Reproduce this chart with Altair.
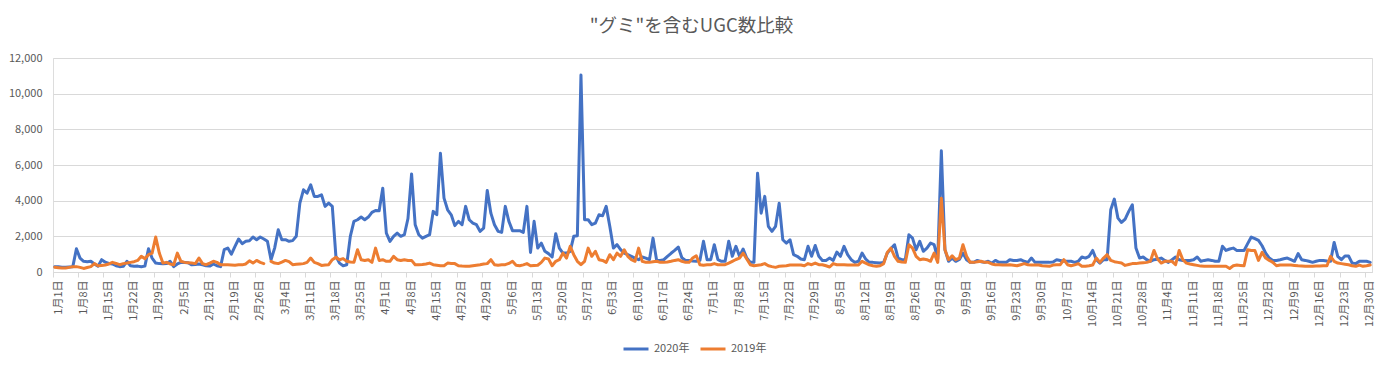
import json
import altair as alt
import pandas as pd

# ---- data ----
title_text = '"グミ"を含むUGC数比較'
series_names = ["2020年", "2019年"]
series_colors = ["#4472C4", "#ED7D31"]

x_labels = ["1月1日", "1月8日", "1月15日", "1月22日", "1月29日", "2月5日", "2月12日", "2月19日",
            "2月26日", "3月4日", "3月11日", "3月18日", "3月25日", "4月1日", "4月8日", "4月15日",
            "4月22日", "4月29日", "5月6日", "5月13日", "5月20日", "5月27日", "6月3日", "6月10日",
            "6月17日", "6月24日", "7月1日", "7月8日", "7月15日", "7月22日", "7月29日", "8月5日",
            "8月12日", "8月19日", "8月26日", "9月2日", "9月9日", "9月16日", "9月23日", "9月30日",
            "10月7日", "10月14日", "10月21日", "10月28日", "11月4日", "11月11日", "11月18日",
            "11月25日", "12月2日", "12月9日", "12月16日", "12月23日", "12月30日"]

y_ticks = [0, 2000, 4000, 6000, 8000, 10000, 12000]

ugc_2020 = [
    300, 290, 270, 260, 280, 300, 1300, 780, 600, 580, 600, 450, 320, 690, 550, 480, 450, 350, 300, 320,
    600, 350, 320, 330, 300, 330, 1300, 780, 500, 470, 460, 470, 600, 300, 450, 540, 530, 520, 400, 420,
    450, 400, 350, 330, 450, 350, 300,
    1250, 1340, 1000, 1440, 1850, 1590, 1720, 1750, 1960, 1810, 1960, 1850, 1720, 690, 1340, 2370, 1810,
    1810, 1720, 1760, 2000, 3860, 4610, 4420, 4890, 4240, 4240, 4330, 3680, 3860, 3680, 880, 500, 350,
    400, 2000, 2840, 2930,
    3080, 2930, 3080, 3340, 3450, 3430, 4700, 2180, 1720, 2000, 2180, 2000, 2090, 3000, 5500, 2650, 2090,
    1900, 2000, 2090, 3400, 3210, 6660, 4140, 3490, 3210, 2600, 2840, 2650, 3680, 2930, 2740, 2650, 2280,
    2460, 4570, 3300, 2650, 2280, 2220, 3680, 2840, 2320, 2320, 2320, 2220, 3680, 1100, 2840, 1340, 1620,
    1160, 1030, 840, 2150, 1340, 1060, 1060, 1160, 2000, 2030, 11050, 2930, 2930, 2650, 2740, 3210, 3150,
    3680, 2560, 1340, 1530, 1250, 1060, 970, 880, 780, 690, 840, 780, 690, 1900, 650, 650, 690, 880, 1050,
    1210, 1400, 800, 650, 650, 620,
    600, 650, 1720, 690, 690, 1530, 690, 600, 600, 1720, 880, 1440, 880, 1290, 780, 540, 540, 5540, 3300,
    4240, 2560, 2280, 2560, 3860, 1810, 1620, 1810, 970, 880, 730, 690, 1440, 880, 1490, 880, 650, 650,
    780, 650, 1120, 880, 1440, 970, 690, 540, 600, 1060, 730, 540, 540, 520, 500, 540, 1060, 1300, 1530,
    780, 690, 690, 2090, 1900, 1250, 1720, 1160, 1340, 1620, 1530, 730, 6800, 1250, 600, 780, 600, 700,
    1060, 690, 540, 540, 650, 580, 540, 600, 500, 650, 540, 540, 540, 690, 650, 650, 690, 600, 540, 780,
    540,
    540, 540, 540, 540, 560, 690, 650, 600, 600, 600, 540, 600, 840, 780, 880, 1210, 690, 500, 690, 690,
    3490, 4090, 3020, 2780, 2970, 3400, 3770, 1340, 780, 840, 690, 600, 690, 720, 780, 650, 540, 690, 840,
    690, 650, 650, 650, 690, 840, 600, 650, 690, 650, 600, 600, 1440, 1210, 1290, 1340, 1210, 1210, 1210,
    1590, 1960, 1870, 1770, 1470, 1060, 780, 650, 650, 690, 740, 780, 690, 600, 1030, 690, 650, 600, 540,
    600, 650, 650, 620, 600, 1660, 880, 690, 900, 900, 500, 470, 600, 600, 600, 540,
]

# 2019 values placed on the same calendar; no 2月29日 in 2019 (None)
ugc_2019 = [
    260, 240, 220, 220, 260, 300, 300, 260, 200, 250, 300, 470, 350, 370, 390, 450, 540, 480, 410, 470,
    500, 540, 580, 650, 880, 750, 970, 1060, 1960, 1060, 500, 540, 450, 410, 1060, 600, 540, 520, 500, 470,
    780, 470, 410, 500, 600, 540, 410, 400, 400, 390, 380, 400, 400, 450, 630, 500, 650, 540, 470,
    None,
    600, 500, 470, 550, 650, 580, 410, 430, 450, 470, 540, 780, 540, 470, 370, 390, 410, 690, 820, 690,
    750, 600, 560, 540, 1250,
    690, 650, 690, 540, 1340, 650, 690, 600, 600, 880, 690, 650, 690, 650, 650, 410, 410, 420, 450, 500,
    410, 380, 350, 350, 500, 480, 470, 350, 330, 320, 320, 350, 380, 410, 450, 470, 690, 410, 380, 400,
    410, 480, 600, 380, 350, 400, 470, 350, 370, 380, 540, 780, 730, 350, 600, 690, 1060, 780, 1440, 970,
    600, 410, 600, 1340, 880, 1160, 690, 650, 540, 970, 690, 1060, 880, 1250, 880, 690, 600, 1340, 600,
    540, 540, 570, 600, 540, 540, 560, 600, 650,
    690, 600, 540, 540, 780, 910, 410, 380, 400, 410, 470, 410, 410, 410, 500, 600, 700, 780, 1060, 730,
    410, 350, 380, 410, 470, 350, 300, 260, 320, 340, 350, 390, 390, 390, 390, 350, 470, 410, 500, 410,
    410, 350, 280, 470, 410, 410, 410, 390, 390, 390, 390, 600, 500, 400, 350, 320, 350, 470, 1100, 1340,
    880, 600, 560, 540, 1530, 1340, 880, 690, 730, 690, 600, 1060, 540, 4140, 1250, 690, 910, 690, 780,
    1530, 880, 540, 540, 570, 600, 540, 540, 450, 410, 410, 390, 390, 410, 380, 350, 410, 470, 410, 390,
    390,
    390, 350, 340, 320, 390, 400, 410, 690, 410, 350, 400, 470, 320, 320, 350, 390, 780, 540, 780, 970,
    650, 580, 540, 500, 370, 420, 470, 470, 500, 520, 540, 600, 1210, 730, 500, 600, 600, 600, 410, 1210,
    690, 500, 450, 410, 370, 330, 320, 320, 320, 320, 320, 320, 320, 200, 350, 390, 370, 350, 1250, 1210,
    1210, 650, 1100, 780, 650, 540, 350, 390, 390, 390, 390, 370, 350, 340, 320, 320, 320, 330, 340, 350,
    350, 880, 600, 500, 470, 440, 410, 350, 320, 390, 320, 350, 390,
]

# ---- table ----
rows = []
for name, vals in zip(series_names, [ugc_2020, ugc_2019]):
    for i, v in enumerate(vals):
        rows.append({"day": i, "value": v, "series": name})
df = pd.DataFrame(rows)

n_days = len(ugc_2020)
tick_vals = [7 * i - 0.5 for i in range(len(x_labels))]
label_expr = json.dumps(x_labels, ensure_ascii=False) + "[round((datum.value + 0.5) / 7)]"

FONT = "Noto Sans CJK JP"
GREY = "#595959"

color = alt.Color(
    "series:N",
    scale=alt.Scale(domain=series_names, range=series_colors),
    legend=alt.Legend(
        title=None,
        orient="none",
        direction="horizontal",
        legendX=569,
        legendY=277,
        symbolType="stroke",
        symbolSize=625,
        symbolStrokeWidth=3,
        labelFont=FONT,
        labelFontSize=11,
        labelColor=GREY,
        labelOffset=4,
        columnPadding=4,
    ),
)

x_enc = alt.X(
    "day:Q",
    scale=alt.Scale(domain=[-0.5, n_days - 0.5], nice=False, zero=False),
    axis=alt.Axis(
        title=None,
        values=tick_vals,
        labelExpr=label_expr,
        labelAngle=-90,
        labelAlign="right",
        labelBaseline="middle",
        labelOffset=5,
        labelPadding=3,
        labelFont=FONT,
        labelFontSize=11,
        labelColor=GREY,
        tickSize=5,
        tickColor="#d9d9d9",
        domainColor="#d9d9d9",
        grid=False,
        labelOverlap=False,
    ),
)

y_enc = alt.Y(
    "value:Q",
    scale=alt.Scale(domain=[0, 12000], nice=False),
    axis=alt.Axis(
        title=None,
        values=y_ticks,
        format=",.0f",
        labelFont=FONT,
        labelFontSize=11,
        labelColor=GREY,
        labelPadding=11,
        ticks=False,
        domain=False,
        gridColor="#d9d9d9",
        gridWidth=1,
    ),
)

base = alt.Chart(df)

line2020 = base.transform_filter(alt.datum.series == series_names[0]).mark_line(
    strokeWidth=3, strokeJoin="round", strokeCap="round", invalid="break-paths-show-domains"
).encode(x=x_enc, y=y_enc, color=color)

line2019 = base.transform_filter(alt.datum.series == series_names[1]).mark_line(
    strokeWidth=3, strokeJoin="round", strokeCap="round", invalid="break-paths-show-domains"
).encode(x=x_enc, y=y_enc, color=color)

chart = (
    alt.layer(line2020, line2019)
    .properties(
        width=1319,
        height=214,
        autosize=alt.AutoSizeParams(type="none"),
        padding={"left": 45, "top": 50, "right": 7, "bottom": 87},
        title=alt.TitleParams(
            text=title_text,
            font=FONT,
            fontSize=18.5,
            fontWeight="normal",
            color=GREY,
            anchor="middle",
            frame="group",
            dx=-21,
            offset=17,
        ),
    )
    .configure_view(stroke="transparent")
    .configure(background="white")
)

chart.save("out.html", embed_options={"renderer": "svg", "actions": False})
